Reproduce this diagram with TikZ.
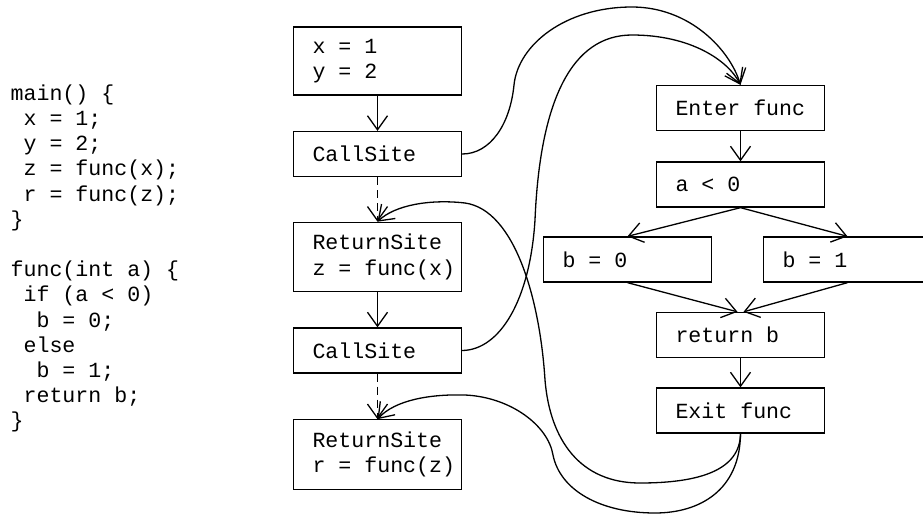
\documentclass[tikz,border=0pt]{standalone}
\usepackage{fontspec}
\setmonofont{Liberation Mono}
\usetikzlibrary{arrows.meta,positioning}
\def\code{\ttfamily\fontsize{10.8}{12.6}\selectfont}

\begin{document}
\begin{tikzpicture}[x=0.5pt,y=-0.5pt,line width=0.65pt,on grid,
    >={Straight Barb[length=7pt,width=10pt]},
    blk/.style={draw,text width=65pt,inner xsep=9.5pt,inner ysep=6pt,minimum height=22.5pt,align=left,font=\code,
        execute at begin node={\spaceskip=0.6em\relax}},
    ret/.style={->,dash pattern=on 4pt off 2.5pt}]

    \clip (0,0) rectangle (923,515);

    \node[anchor=north west,align=left,font=\code,inner sep=0pt] (src) at (10,84) {main() \{\\\ x = 1;\\\ y = 2;\\\ z = func(x);\\\ r = func(z);\\\}\\[12.6pt]func(int a) \{\\\ if (a < 0)\\\ \ b = 0;\\\ else\\\ \ b = 1;\\\ return b;\\\}};

    % caller
    \node[blk] (init) at (377.5,61) {x = 1\\y = 2};
    \node[blk,below=46.5pt of init] (call1) {CallSite};
    \draw[->] (init) -- (call1);

    \node[blk,below=51.5pt of call1] (ret1) {ReturnSite\\z~=~func(x)};
    \draw[ret] (call1) -- (ret1);

    \node[blk,below=46.75pt of ret1] (call2) {CallSite};
    \draw[->] (ret1) -- (call2);

    \node[blk,below=52pt of call2] (ret2) {ReturnSite\\r~=~func(z)};
    \draw[ret] (call2) -- (ret2);

    % callee
    \node[blk] (enter) at (740.5,108) {Enter~func};
    \node[blk,below=38.25pt of enter] (cond) {a < 0};
    \draw[->] (enter) -- (cond);

    \node[blk,below left=37.5pt and 56.5pt of cond] (b0) {b = 0};
    \draw[->] (cond.south) -- (b0.north);

    \node[blk,below right=37.5pt and 53.5pt of cond] (b1) {b = 1};
    \draw[->] (cond.south) -- (b1.north);

    \node[blk,below=75.25pt of cond] (rb) {return b};
    \draw[->] (b0.south) -- ([xshift=-1.5pt]rb.north);
    \draw[->] (b1.south) -- ([xshift=1.5pt]rb.north);

    \node[blk,below=37.75pt of rb] (exit) {Exit~func};
    \draw[->] (rb) -- (exit);

    % call and return edges
    \draw[->] (call1.east) .. controls (490,154) and (510,125) .. (514,85)
        .. controls (518,45) and (565,7) .. (632,7)
        .. controls (690,7) and (730,50) .. (enter.north);
    \draw[->] (call2.east) .. controls (500,350) and (530,300) .. (535,220)
        .. controls (540,100) and (572,35) .. (632,35)
        .. controls (690,35) and (728,60) .. (enter.north);
    \draw[->] (exit.south) .. controls (740,470) and (700,483) .. (640,483)
        .. controls (580,483) and (550,440) .. (545,380)
        .. controls (540,300) and (515,210) .. (465,203)
        .. controls (430,199) and (395,205) .. (ret1.north);
    \draw[->] (exit.south) .. controls (740,490) and (700,513) .. (655,513)
        .. controls (600,513) and (560,490) .. (553,455)
        .. controls (548,425) and (510,397) .. (465,395)
        .. controls (430,394) and (395,400) .. (ret2.north);

\end{tikzpicture}
\end{document}
